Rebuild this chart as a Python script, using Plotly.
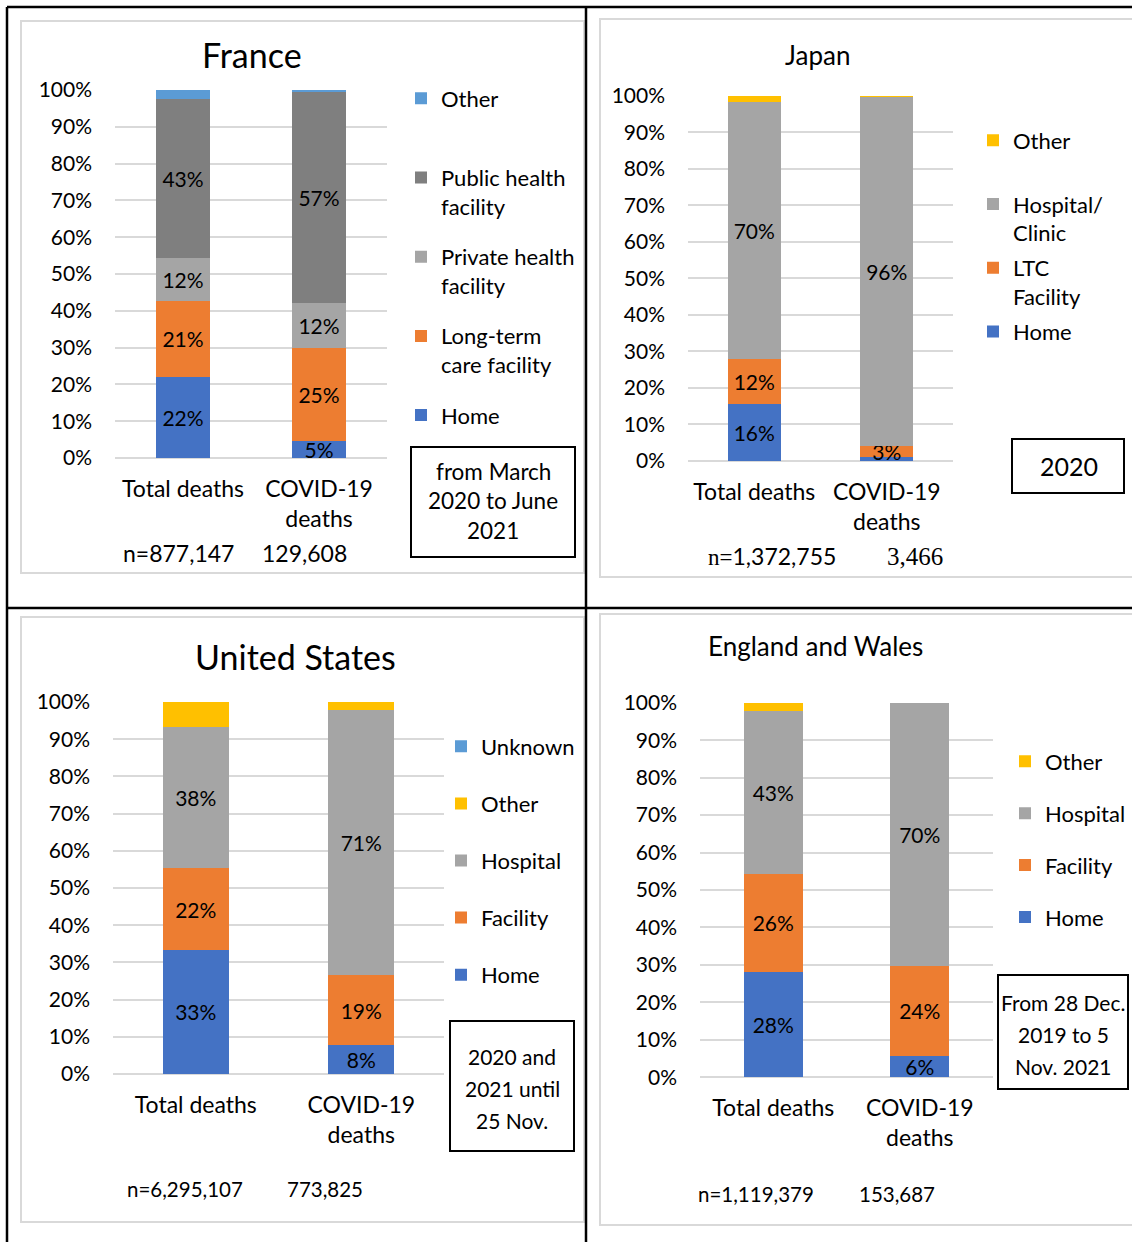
import plotly.graph_objects as go

W, H = 1132, 1242
FONT = "Lato"
SERIF = "Liberation Serif"

# ---------------- data ----------------
categories = ["Total deaths", "COVID-19<br>deaths"]

# France (share of deaths by place, %)
fr_names = ["Home", "Long-term<br>care facility", "Private health<br>facility", "Public health<br>facility", "Other<br> "]
fr_home = [22.0, 4.6]
fr_ltc = [20.7, 25.2]
fr_private = [11.7, 12.4]
fr_public = [43.1, 57.2]
fr_other = [2.5, 0.6]
fr_n = ["n=877,147", "129,608"]

# Japan
jp_names = ["Home", "LTC<br>Facility", "Hospital/<br>Clinic", "Other<br> "]
jp_home = [15.7, 1.1]
jp_ltc = [12.3, 2.9]
jp_hospital = [70.2, 95.9]
jp_other = [1.8, 0.1]
jp_n = ["n=", "1,372,755", "3,466"]

# United States
us_names = ["Home", "Facility", "Hospital", "Other", "Unknown"]
us_home = [33.4, 7.7]
us_facility = [21.9, 18.8]
us_hospital = [37.9, 71.4]
us_other = [6.8, 2.1]
us_unknown = [0.0, 0.0]
us_n = ["n=6,295,107", "773,825"]

# England and Wales
ew_names = ["Home", "Facility", "Hospital", "Other"]
ew_home = [28.0, 5.8]
ew_facility = [26.4, 23.9]
ew_hospital = [43.4, 70.3]
ew_other = [2.2, 0.0]
ew_n = ["n=1,119,379", "153,687"]

titles = ["France", "Japan", "United States", "England and Wales"]
periods = [["from March", "2020 to June", "2021"], ["2020"],
           ["2020 and", "2021 until", "25 Nov."], ["From 28 Dec.", "2019 to 5", "Nov. 2021"]]

# ---------------- styles ----------------
BLUE = "#4472C4"
ORANGE = "#ED7D31"
GRAY = "#A5A5A5"
DARKGRAY = "#7F7F7F"
LIGHTBLUE = "#5B9BD5"
GOLD = "#FFC000"
GRID = "#D9D9D9"


def px(x):
    return x / W


def py(y):
    return 1 - y / H


fig = go.Figure()

panels = [
    dict(names=fr_names, vals=[fr_home, fr_ltc, fr_private, fr_public, fr_other],
         colors=[BLUE, ORANGE, GRAY, DARKGRAY, LIGHTBLUE], nolabel={4}),
    dict(names=jp_names, vals=[jp_home, jp_ltc, jp_hospital, jp_other],
         colors=[BLUE, ORANGE, GRAY, GOLD], nolabel={3}),
    dict(names=us_names, vals=[us_home, us_facility, us_hospital, us_other, us_unknown],
         colors=[BLUE, ORANGE, GRAY, GOLD, LIGHTBLUE], nolabel={3, 4}),
    dict(names=ew_names, vals=[ew_home, ew_facility, ew_hospital, ew_other],
         colors=[BLUE, ORANGE, GRAY, GOLD], nolabel={3}),
]

legend_ids = ["legend", "legend2", "legend3", "legend4"]
for i, p in enumerate(panels):
    ax = "" if i == 0 else str(i + 1)
    n = len(p["names"])
    for j, (name, vals, col) in enumerate(zip(p["names"], p["vals"], p["colors"])):
        texts = ["" if (j in p["nolabel"] or v < 2) else f"{round(v)}%" for v in vals]
        fig.add_trace(go.Bar(
            x=categories, y=vals, name=name, width=0.4,
            marker=dict(color=col, line=dict(width=0)),
            text=texts, textposition="inside", insidetextanchor="middle",
            constraintext="none", textangle=0,
            textfont=dict(family=FONT, size=21, color="black"),
            xaxis="x" + ax, yaxis="y" + ax,
            legend=legend_ids[i], legendgroup=f"p{i}_{j}", legendrank=n - j,
            hoverinfo="skip",
        ))

# axis domains in pixels: (x0, x1, ytop, ybottom)
domains = [(115, 387, 90, 458), (688, 953, 95.7, 461), (113, 444, 702, 1074), (700, 993, 702.7, 1077.3)]

layout = dict(
    width=W, height=H, margin=dict(l=0, r=0, t=0, b=0, pad=0, autoexpand=False),
    paper_bgcolor="white", plot_bgcolor="white",
    barmode="stack", font=dict(family=FONT, color="black"),
)
for i, (x0, x1, yt, yb) in enumerate(domains):
    k = "" if i == 0 else str(i + 1)
    layout["xaxis" + k] = dict(
        domain=[px(x0), px(x1)], anchor="y" + k, type="category",
        range=[-0.5, 1.5], showgrid=False, showline=False, ticks="",
        tickfont=dict(family=FONT, size=23, color="black"), ticklabelstandoff=15,
        fixedrange=True, automargin=False,
    )
    layout["yaxis" + k] = dict(
        domain=[py(yb), py(yt)], anchor="x" + k, range=[0, 100],
        tickmode="linear", tick0=0, dtick=10, ticksuffix="%",
        showgrid=True, gridcolor=GRID, gridwidth=1.5,
        zeroline=True, zerolinecolor=GRID, zerolinewidth=1.5,
        showline=False, ticks="", ticklabelstandoff=22,
        tickfont=dict(family=FONT, size=21, color="black"),
        fixedrange=True, automargin=False,
    )

# legends: (left px, top px, group gap)
leg_pos = [(401, 77.5, 19), (973, 119.5, 3.5), (441, 725.5, 25.5), (1005, 740.5, 20.3)]
for lid, (lx, ly, gap) in zip(legend_ids, leg_pos):
    layout[lid] = dict(
        x=px(lx), y=py(ly), xanchor="left", yanchor="top",
        orientation="v", traceorder="grouped", tracegroupgap=gap,
        valign="top", bgcolor="rgba(0,0,0,0)", borderwidth=0,
        font=dict(family=FONT, size=22, color="black"),
    )

fig.update_layout(**layout)

# ---------------- shapes: table lines, chart areas, period boxes ----------------
shapes = []
# black table lines
for (x0, y0, x1, y1) in [(7, 7, 1132, 7), (7, 7, 7, 1242), (586, 7, 586, 1242), (7, 608, 1132, 608)]:
    shapes.append(dict(type="line", xref="paper", yref="paper", x0=px(x0), y0=py(y0), x1=px(x1), y1=py(y1),
                       line=dict(color="black", width=2.5)))
# light gray chart-area borders
for (x0, y0, x1, y1) in [(21, 21, 584, 573), (600, 19, 1140, 577), (21, 617, 584, 1222), (600, 614, 1140, 1225)]:
    shapes.append(dict(type="rect", xref="paper", yref="paper", x0=px(x0), y0=py(y0), x1=px(x1), y1=py(y1),
                       line=dict(color=GRID, width=2), layer="below"))
# black period boxes
box_pos = [(411, 447, 575, 557), (1012, 439, 1124, 493), (450, 1021, 574, 1151), (998, 975, 1128, 1089)]
for (x0, y0, x1, y1) in box_pos:
    shapes.append(dict(type="rect", xref="paper", yref="paper", x0=px(x0), y0=py(y0), x1=px(x1), y1=py(y1),
                       line=dict(color="black", width=2)))
fig.update_layout(shapes=shapes)

# ---------------- annotations ----------------
ann = []
title_pos = [(252, 55, 34), (817, 55, 26), (295, 656, 34), (815, 646, 26)]
for t, (x, y, s) in zip(titles, title_pos):
    ann.append(dict(text=t, x=px(x), y=py(y), xref="paper", yref="paper", showarrow=False,
                    xanchor="center", yanchor="middle", font=dict(family=FONT, size=s, color="black")))

# period text lines: (center x, first line y, line step, size)
period_lines = [(493, 471, 29.5, 22.5), (1069, 466, 0, 25), (512, 1056, 32, 21), (1063, 1002, 32, 21)]
for lines, (cx, y0, step, s) in zip(periods, period_lines):
    for li, t in enumerate(lines):
        ann.append(dict(text=t, x=px(cx), y=py(y0 + li * step), xref="paper", yref="paper",
                        showarrow=False, xanchor="center", yanchor="middle",
                        font=dict(family=FONT, size=s, color="black")))

# n labels: (text, center x, y, family, size)
n_specs = [
    (fr_n[0], 178, 553, FONT, 23), (fr_n[1], 304, 553, FONT, 23),
    (f'<span style="font-family:{SERIF}">{jp_n[0]}</span>{jp_n[1]}', 772, 556, FONT, 23), (jp_n[2], 915, 556, SERIF, 25),
    (us_n[0], 185, 1189, FONT, 20.5), (us_n[1], 325, 1189, FONT, 20.5),
    (ew_n[0], 756, 1194, FONT, 20.5), (ew_n[1], 897, 1194, FONT, 20.5),
]
for t, x, y, f, s in n_specs:
    ann.append(dict(text=t, x=px(x), y=py(y), xref="paper", yref="paper", showarrow=False,
                    xanchor="center", yanchor="middle",
                    font=dict(family=f, size=s, color="black")))
fig.update_layout(annotations=ann)

fig.write_html("out.html")
